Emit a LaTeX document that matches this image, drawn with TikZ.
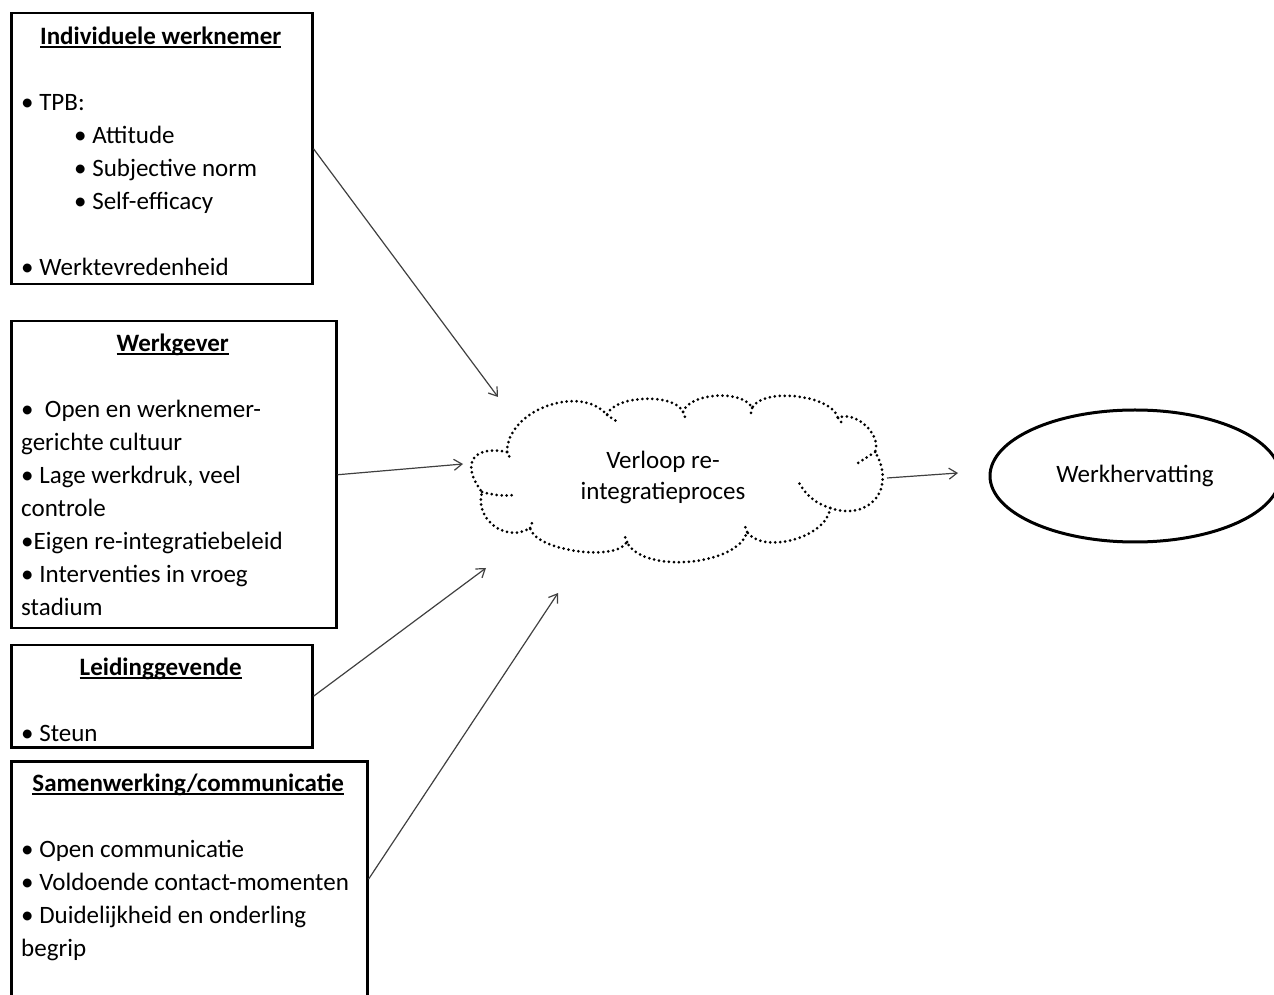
\documentclass[tikz,border=0pt]{standalone}
\usepackage{fontspec}
\setmainfont{Carlito}
\usetikzlibrary{arrows.meta,positioning,shapes.geometric}

% underlined bold heading, centred on its own line
\newcommand{\kop}[1]{\spaceskip=0pt\xspaceskip=0pt\setbox0\hbox{\bfseries #1}%
  \strut\hfill\rlap{\copy0}\rule[-3.7pt]{\wd0}{2pt}\hfill\mbox{}}

\begin{document}
\begin{tikzpicture}[
  x=1pt, y=1pt,
  font=\fontsize{25}{33}\selectfont,
  box/.style={draw, line width=2.5pt, inner sep=0pt, anchor=north west},
  txt/.style={anchor=north west, align=left, inner xsep=11pt, inner ysep=0pt},
  arr/.style={-{Straight Barb[length=8pt, width=11pt]}, draw=black!75, line width=1.2pt},
  wolk/.style={line width=3pt, line cap=round, dash pattern=on 0pt off 5pt}
]
\useasboundingbox (0,0) rectangle (1274,994);

% ---------- Factor boxes ----------
\node[box, minimum width=301pt, minimum height=271pt] (werknemer) at (10,982) {};
\node[txt, text width=279pt] (werknemertxt) at ([yshift=-9pt]werknemer.north west)
  {\kop{Individuele werknemer}\\[33pt]
   • TPB:\\
   \hspace*{53pt}• Attitude\\
   \hspace*{53pt}• Subjective norm\\
   \hspace*{53pt}• Self-efficacy\\[33pt]
   • Werktevredenheid};

\node[box, minimum width=325pt, minimum height=307pt] (werkgever) at (10,674) {};
\node[txt, text width=303pt] (werkgevertxt) at ([yshift=-8pt]werkgever.north west)
  {\kop{Werkgever}\\[33pt]
   •\ \ Open en werknemer-\\
   gerichte cultuur\\
   • Lage werkdruk, veel\\
   controle\\
   •Eigen re-integratiebeleid\\
   • Interventies in vroeg\\
   stadium};

\node[box, minimum width=301pt, minimum height=102pt] (leiding) at (10,350) {};
\node[txt, text width=279pt] (leidingtxt) at ([yshift=-8pt]leiding.north west)
  {\kop{Leidinggevende}\\[33pt]
   • Steun};

\node[box, minimum width=356pt, minimum height=236pt] (samenwerking) at (10,234) {};
\node[txt, text width=334pt] (samenwerkingtxt) at ([yshift=-8pt]samenwerking.north west)
  {\kop{Samenwerking/communicatie}\\[33pt]
   • Open communicatie\\
   • Voldoende contact-momenten\\
   • Duidelijkheid en onderling\\
   begrip};

% ---------- Cloud ----------
\node[align=center, font=\fontsize{25}{31}\selectfont] (proces) at (663,517)
  {Verloop re-\\integratieproces};
\coordinate (w1) at (507,542);
\coordinate (w2) at (607,579);
\coordinate (w3) at (683,582);
\coordinate (w4) at (752,586);
\coordinate (w5) at (838,576);
\coordinate (w6) at (875,542);
\coordinate (w7) at (830,486);
\coordinate (w8) at (747,462);
\coordinate (w9) at (627,452);
\coordinate (w10) at (530,466);
\coordinate (w11) at (482,502);
\draw[wolk] (w1) to[bend left=70, looseness=1] (w2)
  to[bend left=70, looseness=.7] (w3)
  to[bend left=70, looseness=.75] (w4)
  to[bend left=70, looseness=.7] (w5)
  to[bend left=70, looseness=.95] (w6)
  to[bend left=70, looseness=1.5] (w7)
  to[bend left=70, looseness=.85] (w8)
  to[bend left=70, looseness=.75] (w9)
  to[bend left=70, looseness=.6] (w10)
  to[bend left=70, looseness=1.2] (w11)
  to[bend left=70, looseness=1.9] (w1);
\draw[wolk] (w11) to[bend right=10] (515,499);
\draw[wolk] (w7) to[bend left=20] (799,511);
\draw[wolk] (w6) -- (858,531);
\draw[wolk] (w1) -- (510,536) (w2) -- (616,573) (w3) -- (685,577) (w4) -- (751,581)
  (w5) -- (842,571) (w8) -- (745,468) (w9) -- (625,457) (w10) -- (532,471);
\coordinate (wolkoost) at (887,516);

% ---------- Outcome ----------
\node[ellipse, draw, line width=3pt, minimum width=290pt, minimum height=132pt, inner sep=0pt]
  (werkherv) at (1135,518) {Werkhervatting};

% ---------- Arrows ----------
\coordinate (in1) at (498,597);
\coordinate (in2) at (463,530);
\coordinate (in3) at (486,426);
\coordinate (in4) at (558,401);
\coordinate (uit) at (958,521);
\draw[arr] (werknemer.east) -- (in1);
\draw[arr] (werkgever.east) -- (in2);
\draw[arr] (leiding.east) -- (in3);
\draw[arr] (samenwerking.east) -- (in4);
\draw[arr] (wolkoost) -- (uit);
\end{tikzpicture}
\end{document}
